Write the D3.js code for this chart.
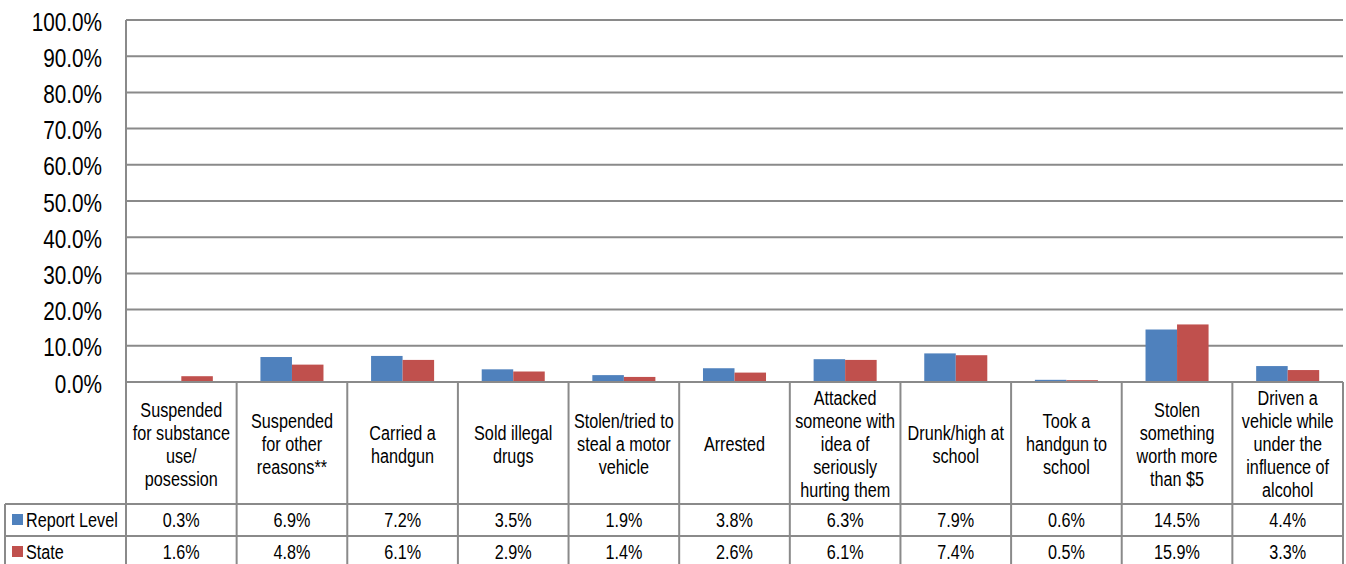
<!DOCTYPE html>
<html>
<head>
<meta charset="utf-8">
<script src="https://cdn.jsdelivr.net/npm/d3@7/dist/d3.min.js"></script>
<style>
  html, body { margin: 0; padding: 0; background: #fff; }
  svg { display: block; font-family: "Liberation Sans", Arial, sans-serif; }
</style>
</head>
<body>
<svg id="chart" width="1346" height="564"></svg>
<script>
const categories = [
  "Suspended\nfor substance\nuse/\nposession",
  "Suspended\nfor other\nreasons**",
  "Carried a\nhandgun",
  "Sold illegal\ndrugs",
  "Stolen/tried to\nsteal a motor\nvehicle",
  "Arrested",
  "Attacked\nsomeone with\nidea of\nseriously\nhurting them",
  "Drunk/high at\nschool",
  "Took a\nhandgun to\nschool",
  "Stolen\nsomething\nworth more\nthan $5",
  "Driven a\nvehicle while\nunder the\ninfluence of\nalcohol"
];
const seriesNames = ["Report Level", "State"];
const reportLevel = [0.3, 6.9, 7.2, 3.5, 1.9, 3.8, 6.3, 7.9, 0.6, 14.5, 4.4];
const state = [1.6, 4.8, 6.1, 2.9, 1.4, 2.6, 6.1, 7.4, 0.5, 15.9, 3.3];
const yTicks = [0, 10, 20, 30, 40, 50, 60, 70, 80, 90, 100];
const colors = ["#4F81BD", "#C0504D"];

const seriesValues = [reportLevel, state];
const svg = d3.select("#chart");

const plotLeft = 126, plotRight = 1343, plotTop = 20, plotBottom = 382;
const headerBottom = 504, row1Bottom = 536, row2Bottom = 568;
const legendLeft = 5;
const gridColor = "#8a8a8a";
const sxAxis = 0.83, sxTable = 0.81;

const x = d3.scaleBand().domain(d3.range(categories.length)).range([plotLeft, plotRight]).padding(0);
const x1 = d3.scaleBand().domain(d3.range(seriesNames.length)).range([0, x.bandwidth()]).paddingInner(0).paddingOuter(0.755);
const y = d3.scaleLinear().domain([0, 100]).range([plotBottom, plotTop]);

// gridlines
svg.append("g").selectAll("line").data(yTicks).join("line")
  .attr("x1", plotLeft).attr("x2", plotRight)
  .attr("y1", d => y(d)).attr("y2", d => y(d))
  .attr("stroke", gridColor).attr("stroke-width", 2);

// y axis labels (condensed horizontally like the reference)
const yAxis = d3.axisLeft(y).tickValues(yTicks).tickFormat(d => d3.format(".1f")(d) + "%").tickSize(0).tickPadding(0);
const yg = svg.append("g").attr("transform", `translate(${plotLeft},0)`).call(yAxis);
yg.select(".domain").remove();
yg.selectAll(".tick text")
  .attr("x", 0).attr("y", 0)
  .attr("transform", `translate(-24,1) scale(${sxAxis},1)`)
  .attr("font-size", 25).attr("fill", "#000").attr("dy", "0.36em")
  .attr("font-family", "'Liberation Sans', Arial, sans-serif");

// bars
const groups = svg.append("g").selectAll("g").data(categories.map((c, i) => i)).join("g")
  .attr("transform", i => `translate(${x(i)},0)`);
groups.selectAll("rect").data(i => seriesValues.map((arr, s) => ({s, v: arr[i]}))).join("rect")
  .attr("x", d => x1(d.s)).attr("width", x1.bandwidth())
  .attr("y", d => y(d.v)).attr("height", d => y(0) - y(d.v))
  .attr("fill", d => colors[d.s]);

// table lines
const tg = svg.append("g").attr("stroke", gridColor).attr("stroke-width", 2).attr("fill", "none");
const vx = d3.range(categories.length + 1).map(i => i < categories.length ? x(i) : plotRight);
tg.selectAll("line.v").data(vx).join("line").attr("class", "v")
  .attr("x1", d => d).attr("x2", d => d).attr("y1", (d, i) => i === 0 ? plotTop : plotBottom).attr("y2", row2Bottom);
tg.append("line").attr("x1", plotLeft).attr("x2", plotRight).attr("y1", plotBottom).attr("y2", plotBottom);
[headerBottom, row1Bottom].forEach(yy => tg.append("line").attr("x1", legendLeft).attr("x2", plotRight).attr("y1", yy).attr("y2", yy));
tg.append("line").attr("x1", legendLeft).attr("x2", legendLeft).attr("y1", headerBottom).attr("y2", row2Bottom);

function condensedText(parent, cx, cy, lines, anchor, lineH) {
  const t = parent.append("text")
    .attr("transform", `translate(${cx},${cy}) scale(${sxTable},1)`)
    .attr("font-size", 20).attr("fill", "#000").attr("text-anchor", anchor);
  lines.forEach((ln, k) => {
    t.append("tspan").attr("x", 0)
      .attr("y", (k - (lines.length - 1) / 2) * lineH)
      .attr("dy", "0.36em").text(ln);
  });
  return t;
}

// header labels
const hdr = svg.append("g");
categories.forEach((c, i) => {
  condensedText(hdr, x(i) + x.bandwidth() / 2, (plotBottom + headerBottom) / 2 + 1, c.split("\n"), "middle", 23);
});

// data rows
const rowCenters = [(headerBottom + row1Bottom) / 2, 552];
seriesNames.forEach((name, s) => {
  const cy = rowCenters[s];
  svg.append("rect").attr("x", 12).attr("y", cy - 6).attr("width", 11).attr("height", 11).attr("fill", colors[s]);
  condensedText(svg, 26, cy, [name], "start", 23);
  seriesValues[s].forEach((d, i) => {
    condensedText(svg, x(i) + x.bandwidth() / 2, cy, [d3.format(".1f")(d) + "%"], "middle", 23);
  });
});
</script>
</body>
</html>
